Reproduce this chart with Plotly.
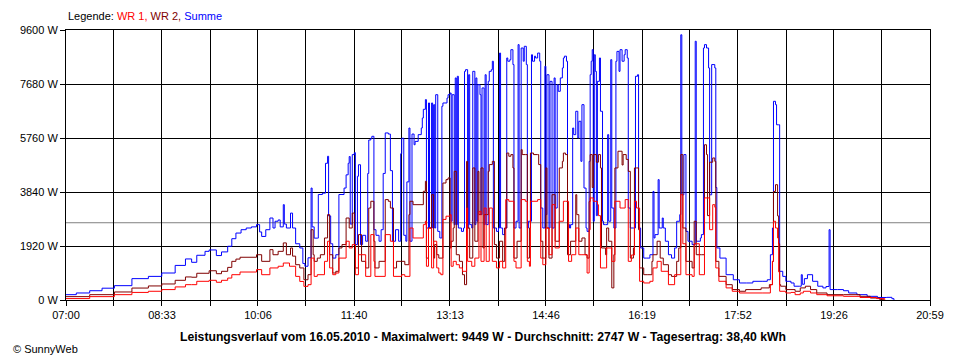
import pandas as pd
import plotly.graph_objects as go

DAY = "2010-05-16"

# ---------------- data ----------------
sum_time = ["07:00","07:10","07:23","07:35","07:47","08:04","08:20","08:33","08:46","08:56",
            "09:02","09:07","09:15","09:19","09:26","09:31","09:37","09:41","09:45","09:50",
            "09:55","10:00","10:05","10:08","10:10","10:14","10:18","10:21","10:23","10:26",
            "10:28","10:31","10:32","10:34","10:38","10:40","10:43","10:47","10:50","10:52",
            "10:55","10:58","10:59","11:01","11:04","11:05","11:09","11:12","11:14","11:15",
            "11:17","11:19","11:22","11:25","11:28","11:30","11:32","11:34","11:35","11:36",
            "11:38","11:40","11:41","11:43","11:44","11:46","11:48","11:51","11:53","11:54",
            "11:56","11:57","11:59","12:01","12:04","12:06","12:08","12:10","12:13","12:15",
            "12:17","12:20","12:23","12:25","12:26","12:28","12:30","12:31","12:33","12:34",
            "12:36","12:38","12:39","12:42","12:45","12:46","12:47","12:49","12:50","12:52",
            "12:53","12:55","12:56","12:57","12:58","12:59","13:01","13:03","13:05","13:06",
            "13:10","13:11","13:13","13:14","13:15","13:17","13:18","13:19","13:20","13:21",
            "13:24","13:26","13:27","13:28","13:30","13:31","13:32","13:34","13:35","13:37",
            "13:38","13:39","13:40","13:42","13:43","13:44","13:46","13:47","13:48","13:50",
            "13:51","13:53","13:54","13:55","13:58","14:00","14:01","14:02","14:04","14:06",
            "14:08","14:09","14:11","14:12","14:14","14:15","14:17","14:19","14:20","14:22",
            "14:24","14:25","14:27","14:28","14:29","14:32","14:33","14:35","14:36","14:38",
            "14:40","14:41","14:43","14:45","14:46","14:47","14:49","14:50","14:52","14:54",
            "14:55","14:57","14:58","15:00","15:02","15:03","15:04","15:06","15:07","15:09",
            "15:10","15:12","15:13","15:15","15:17","15:18","15:20","15:21","15:23","15:25",
            "15:26","15:28","15:29","15:30","15:31","15:32","15:33","15:34","15:35","15:36",
            "15:38","15:39","15:41","15:42","15:44","15:46","15:47","15:49","15:50","15:52",
            "15:54","15:55","15:57","15:58","16:00","16:02","16:03","16:05","16:06","16:08",
            "16:11","16:13","16:15","16:16","16:18","16:21","16:24","16:27","16:30","16:31",
            "16:32","16:35","16:36","16:39","16:40","16:42","16:45","16:48","16:51","16:53",
            "16:56","16:57","16:58","17:00","17:02","17:04","17:08","17:11","17:12","17:16",
            "17:17","17:19","17:20","17:22","17:24","17:25","17:27","17:30","17:31","17:32",
            "17:35","17:41","17:48","17:54","18:01","18:07","18:16","18:21","18:24","18:26",
            "18:27","18:29","18:30","18:32","18:33","18:36","18:39","18:44","18:47","18:52",
            "18:54","18:55","18:57","19:00","19:05","19:10","19:15","19:18","19:21","19:22",
            "19:29","19:35","19:40","19:48","19:58","20:08","20:17","20:22","20:24"]
sum_w = [190,250,330,420,510,760,840,960,1230,1460,
         1340,1590,1730,1780,1580,1710,1910,2180,2380,2500,
         2560,2600,2680,2420,2260,2500,2915,2560,2800,2845,
         2600,3390,2700,2560,3090,2560,2000,1850,1300,1200,
         1500,3980,2600,2200,2200,3750,3800,4860,5110,2990,
         2000,1490,1610,3750,3750,3980,4450,4860,5100,2700,
         5170,5240,1970,4400,4810,1970,2300,2090,4500,5690,
         5750,5820,2500,2300,2090,2500,4500,5940,5900,4600,
         2090,2500,2090,5200,5750,2300,2090,4200,6115,2090,
         5900,5520,5640,5880,6115,6470,6780,7125,2560,7005,
         2560,7005,2560,6945,2560,7300,2440,2205,6890,7005,
         7180,7300,7360,2800,7300,2680,7895,2680,7955,2560,
         2440,2560,8130,8190,2560,8010,2680,2560,8130,2680,
         7895,2800,7655,7300,3035,7540,2680,8010,2680,7775,
         8130,8190,8490,2560,2440,2560,8780,2560,2325,2560,
         8605,8490,8545,8900,8370,2560,2800,9080,2560,8960,
         8490,9020,8370,2560,2800,8720,8490,8670,8605,8780,
         8490,3270,2560,8310,3035,8010,2560,7775,2560,7895,
         3270,7655,7420,7895,8250,8605,8670,8490,2680,2560,
         2680,6115,5880,6710,5760,6355,4930,6945,3980,2560,
         2440,4930,8010,8490,8900,2800,8720,8130,3000,7775,
         8605,6710,2800,2680,2680,5880,2800,8545,3270,2560,
         8490,8840,8130,8900,8490,8720,8900,8605,3270,2560,
         2560,7955,8010,2560,1850,1490,1490,1610,3860,2205,
         2325,4280,2560,2915,2560,2090,1610,1490,1850,2800,
         3035,9430,3740,5170,2440,2090,1970,9200,2090,2205,
         2325,8960,9080,8960,8250,3740,8370,8250,4000,1850,
         1490,900,720,605,605,665,665,720,1610,2560,
         7065,6945,6230,6230,1020,840,665,605,490,490,
         900,560,760,900,665,490,430,480,2500,370,
         370,330,250,190,130,90,95,47,0]

wr2_time = ["07:00","07:23","07:47","08:04","08:20","08:33","08:46","08:56","09:02","09:07",
            "09:19","09:26","09:31","09:37","09:41","09:45","09:49","10:05","10:10","10:18",
            "10:21","10:26","10:31","10:34","10:38","10:40","10:43","10:47","10:51","10:55",
            "10:58","11:00","11:01","11:04","11:07","11:11","11:14","11:16","11:19","11:22",
            "11:25","11:28","11:32","11:35","11:38","11:40","11:41","11:44","11:47","11:51",
            "11:54","11:56","11:59","12:00","12:04","12:10","12:13","12:15","12:18","12:21",
            "12:26","12:29","12:33","12:34","12:37","12:47","12:49","12:50","12:52","12:55",
            "12:57","12:58","13:00","13:02","13:06","13:09","13:11","13:13","13:14","13:16",
            "13:17","13:19","13:22","13:25","13:27","13:29","13:30","13:32","13:35","13:37",
            "13:40","13:41","13:43","13:45","13:46","13:50","13:51","13:54","13:56","13:58",
            "14:01","14:04","14:06","14:08","14:10","14:12","14:14","14:15","14:18","14:22",
            "14:23","14:26","14:28","14:30","14:31","14:34","14:38","14:39","14:41","14:43",
            "14:46","14:47","14:49","14:52","14:55","14:59","15:02","15:03","15:05","15:07",
            "15:10","15:15","15:16","15:18","15:21","15:24","15:26","15:28","15:29","15:31",
            "15:32","15:35","15:37","15:39","15:40","15:44","15:45","15:47","15:50","15:52",
            "15:53","15:56","16:00","16:01","16:04","16:06","16:08","16:11","16:12","16:14",
            "16:16","16:17","16:21","16:25","16:29","16:30","16:34","16:37","16:40","16:45",
            "16:48","16:53","16:55","16:57","16:59","17:02","17:08","17:10","17:12","17:17",
            "17:20","17:22","17:23","17:25","17:28","17:30","17:31","17:34","17:41","17:47",
            "17:54","18:00","18:15","18:23","18:26","18:27","18:29","18:31","18:32","18:33",
            "18:34","18:39","18:44","18:48","18:53","18:58","19:03","19:09","19:19","19:35",
            "19:51","20:01","20:10","20:14"]
wr2_w = [120,190,285,425,500,570,700,820,810,950,
         1040,935,1020,1160,1375,1455,1520,1610,1375,1790,
         1610,1730,2030,1610,1850,1560,1255,1140,720,900,
         2500,1610,1375,1490,1610,2205,3035,1610,960,1020,
         1850,1970,2915,2560,3090,1970,1140,2325,1375,1140,
         3270,3510,2090,1140,1375,3570,3510,3270,1140,1375,
         1375,1255,3035,3510,3390,3865,4220,1490,2560,3745,
         1490,1970,1610,1490,4160,4280,4340,1850,2090,2560,
         4575,1610,1375,900,545,4930,2560,1490,4695,2090,
         4575,3035,4695,1850,3035,4575,4815,4930,1970,1490,
         2090,1375,2560,5225,5110,5170,4695,1490,2090,5345,
         5170,5170,1490,2560,5225,5170,5170,4815,2090,1490,
         4695,2560,1490,3745,2090,4695,4930,5225,5170,1610,
         2090,3745,3035,2090,2205,1610,1490,3500,5170,4000,
         5170,4900,5170,4695,1850,1610,2560,2090,430,1610,
         4695,5290,4800,5170,5000,4575,1490,1850,4695,4695,
         2500,1140,900,900,1375,1610,2090,1490,1255,900,
         840,1375,1850,5170,2560,1375,1140,2800,1610,1610,
         5520,5170,3000,4900,5050,4930,1375,840,545,370,
         310,370,430,545,1375,3860,4100,2990,2000,545,
         490,370,370,310,430,490,370,250,190,190,
         130,70,23,0]

wr1_time = ["07:00","07:23","07:47","08:04","08:20","08:33","08:46","08:56","09:02","09:07",
            "09:19","09:26","09:31","09:37","09:41","09:49","10:05","10:10","10:18","10:26",
            "10:31","10:37","10:43","10:47","10:51","10:55","10:58","11:01","11:04","11:11",
            "11:14","11:16","11:19","11:22","11:25","11:32","11:35","11:38","11:41","11:44",
            "11:51","11:56","11:59","12:00","12:10","12:15","12:18","12:26","12:29","12:34",
            "12:37","12:47","12:49","12:50","12:52","12:55","12:57","13:00","13:02","13:04",
            "13:06","13:09","13:13","13:14","13:16","13:19","13:22","13:25","13:29","13:30",
            "13:34","13:37","13:41","13:43","13:46","13:48","13:51","13:54","13:58","14:01",
            "14:04","14:07","14:10","14:14","14:15","14:17","14:22","14:26","14:28","14:30",
            "14:31","14:38","14:41","14:43","14:46","14:49","14:52","14:55","14:59","15:03",
            "15:05","15:08","15:11","15:15","15:18","15:21","15:26","15:28","15:29","15:32",
            "15:36","15:37","15:39","15:44","15:45","15:50","15:53","15:58","16:03","16:06",
            "16:09","16:12","16:14","16:17","16:21","16:27","16:30","16:34","16:38","16:45",
            "16:51","16:57","16:59","17:02","17:08","17:10","17:15","17:20","17:25","17:28",
            "17:30","17:31","17:34","17:41","17:47","17:54","18:16","18:24","18:26","18:27",
            "18:29","18:31","18:32","18:33","18:39","18:44","18:48","18:53","18:56","19:03",
            "19:09","19:19","19:35","19:51","20:07","20:15"]
wr1_w = [50,120,190,270,310,370,465,545,545,665,
         700,630,700,780,900,995,1080,900,1140,1200,
         1315,1200,840,660,485,545,1490,840,900,1375,
         2090,1140,900,960,1490,2090,1850,1970,900,1610,
         840,2325,1375,840,2325,2090,840,900,840,2560,
         2205,2680,2800,1200,2560,1140,2090,1140,960,900,
         2865,2980,3035,1200,1375,1255,1140,1020,3270,1375,
         1200,1490,3150,1375,3270,1375,3270,1375,1140,1375,
         1140,3570,3510,3510,1375,1140,3570,3510,1375,1200,
         3510,3570,1490,1255,2560,1610,3390,1850,2800,3510,
         3510,1375,1610,2560,1610,1610,960,2500,3630,3510,
         3390,3000,1140,1140,1850,1375,3510,3270,3570,1375,
         1600,3510,3270,665,605,665,1140,1375,1020,545,
         900,3745,2000,900,840,2000,900,3630,2500,3390,
         3300,1140,665,430,310,250,250,545,1375,2800,
         2560,2205,1000,310,250,270,190,250,310,250,
         190,150,130,90,50,0]

y_tick_values = [0, 1920, 3840, 5760, 7680, 9600]
x_tick_labels = ["07:00", "08:33", "10:06", "11:40", "13:13",
                 "14:46", "16:19", "17:52", "19:26", "20:59"]
average_w = 2747
title_text = ("Leistungsverlauf vom 16.05.2010 - Maximalwert: 9449 W - "
              "Durchschnitt: 2747 W - Tagesertrag: 38,40 kWh")


def to_dt(times):
    return pd.to_datetime([DAY + " " + t for t in times])


FONT = "Liberation Sans, Arial, sans-serif"
PLOT_H = 270  # plot-area height in px, used to place the text annotations

fig = go.Figure()
series = [
    ("Summe", sum_time, sum_w, "#0000FF"),
    ("WR 2", wr2_time, wr2_w, "#800000"),
    ("WR 1", wr1_time, wr1_w, "#FF0000"),
]
for name, tt, vv, col in series:
    fig.add_trace(go.Scatter(x=to_dt(tt), y=vv, mode="lines", name=name,
                             line=dict(color=col, width=1, shape="hv"),
                             hoverinfo="skip"))

# x axis ticks: labelled every ~93 min, grid lines every half step
start = pd.Timestamp(DAY + " " + x_tick_labels[0])
end = pd.Timestamp(DAY + " " + x_tick_labels[-1])
n = len(x_tick_labels) - 1
tickvals, ticktext = [], []
for k in range(2 * n + 1):
    tickvals.append((start + (end - start) * k / (2 * n)).strftime("%Y-%m-%d %H:%M:%S"))
    ticktext.append(x_tick_labels[k // 2] if k % 2 == 0 else "")

# the page body has an 8px default margin, so the figure is 8px smaller
fig.update_layout(
    width=952, height=352,
    margin=dict(l=52, r=30, t=22, b=60, pad=0),
    paper_bgcolor="white", plot_bgcolor="white",
    showlegend=False,
    font=dict(family=FONT, size=11, color="black"),
    xaxis=dict(type="date", range=[tickvals[0], tickvals[-1]],
               tickmode="array", tickvals=tickvals, ticktext=ticktext,
               showgrid=True, gridcolor="black", gridwidth=1,
               showline=True, linecolor="black", linewidth=1, mirror=True,
               ticks="outside", ticklen=5, tickcolor="black", tickwidth=1,
               zeroline=False, tickfont=dict(family=FONT, size=11, color="black")),
    yaxis=dict(range=[0, 9600], tickmode="array", tickvals=y_tick_values,
               ticktext=[f"{v} W" for v in y_tick_values],
               showgrid=True, gridcolor="black", gridwidth=1,
               showline=True, linecolor="black", linewidth=1, mirror=True,
               ticks="outside", ticklen=5, tickcolor="black", tickwidth=1,
               zeroline=False, tickfont=dict(family=FONT, size=11, color="black")),
)

fig.add_shape(type="line", xref="paper", x0=0, x1=1, yref="y",
              y0=average_w, y1=average_w, line=dict(color="#808080", width=1),
              layer="below")

fig.add_annotation(xref="paper", yref="paper", x=0.0, y=1 + 14 / PLOT_H,
                   xanchor="left", yanchor="middle", showarrow=False,
                   text=("Legende: <span style='color:#FF0000'>WR 1,</span> "
                         "<span style='color:#800000'>WR 2,</span> "
                         "<span style='color:#0000FF'>Summe</span>"),
                   font=dict(family=FONT, size=11, color="black"))
fig.add_annotation(xref="paper", yref="paper", x=(480 - 60) / 870, y=-(37 / PLOT_H),
                   xanchor="center", yanchor="middle", showarrow=False,
                   text="<b>" + title_text + "</b>",
                   font=dict(family=FONT, size=12.2, color="black"))
fig.add_annotation(xref="paper", yref="paper", x=(5 - 60) / 870, y=-(49 / PLOT_H),
                   xanchor="left", yanchor="middle", showarrow=False,
                   text="© SunnyWeb",
                   font=dict(family=FONT, size=11, color="black"))

fig.write_html("out.html")
